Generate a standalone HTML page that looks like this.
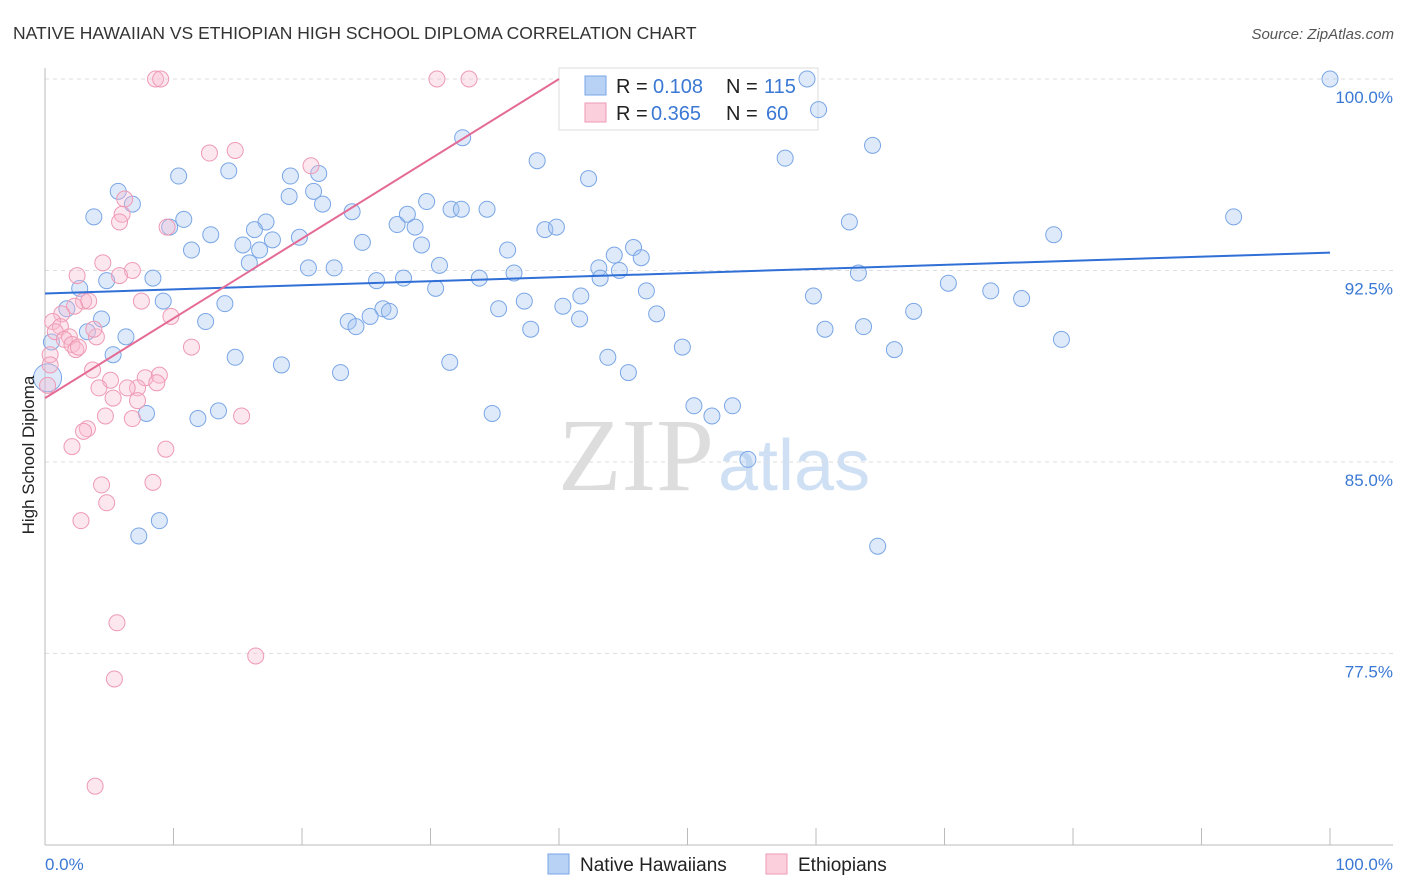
<!DOCTYPE html>
<html><head><meta charset="utf-8"><style>
body{margin:0;background:#fff;font-family:"Liberation Sans",sans-serif;}
#wrap{position:relative;width:1406px;height:892px;overflow:hidden;}
</style></head><body>
<div id="wrap">
<svg id="svg" width="1406" height="892" xmlns="http://www.w3.org/2000/svg" style="position:absolute;left:0;top:0">
<text x="13" y="39" font-size="17.5" fill="#333">NATIVE HAWAIIAN VS ETHIOPIAN HIGH SCHOOL DIPLOMA CORRELATION CHART</text>
<text x="1394" y="39" font-size="15" fill="#555" font-style="italic" text-anchor="end">Source: ZipAtlas.com</text>
<text x="714" y="490" font-size="104" fill="#ddd" text-anchor="end" font-family="Liberation Serif,serif">ZIP</text>
<text x="718" y="490" font-size="72" fill="#cfe0f5">atlas</text>
<g id="grid"></g>
<line x1="45" y1="68" x2="45" y2="845" stroke="#bbb"/>
<line x1="45" y1="845" x2="1393" y2="845" stroke="#bbb"/>
<g id="xticks"></g>
<g>
<rect x="559" y="68" width="259" height="62" fill="#fff" stroke="#ddd"/>
<rect x="585" y="76" width="21" height="19" fill="#b8d2f5" stroke="#7aa6e6"/>
<rect x="585" y="103" width="21" height="19" fill="#fbd0dc" stroke="#ee9ab5"/>
<text x="616" y="93" font-size="20" fill="#222">R =</text>
<text x="653" y="93" font-size="20" fill="#3a78d4">0.108</text>
<text x="726" y="93" font-size="20" fill="#222">N =</text>
<text x="764" y="93" font-size="20" fill="#3a78d4">115</text>
<text x="616" y="120" font-size="20" fill="#222">R =</text>
<text x="651" y="120" font-size="20" fill="#3a78d4">0.365</text>
<text x="726" y="120" font-size="20" fill="#222">N =</text>
<text x="766" y="120" font-size="20" fill="#3a78d4">60</text>
</g>
<g id="marks"></g>
<g id="lines"></g>
<text transform="translate(34,455) rotate(-90)" font-size="17" fill="#222" text-anchor="middle">High School Diploma</text>
<text x="45" y="870" font-size="17" fill="#3a78d4">0.0%</text>
<text x="1393" y="870" font-size="17" fill="#3a78d4" text-anchor="end">100.0%</text>
<g>
<rect x="548" y="854" width="21" height="20" fill="#b8d2f5" stroke="#7aa6e6"/>
<text x="580" y="871" font-size="19" fill="#222">Native Hawaiians</text>
<rect x="766" y="854" width="21" height="20" fill="#fbd0dc" stroke="#ee9ab5"/>
<text x="798" y="871" font-size="19" fill="#222">Ethiopians</text>
</g>
</svg>
</div>
<script>
const yTicks=[100,92.5,85,77.5];
const yTickLabels=["100.0%","92.5%","85.0%","77.5%"];
const xTicks=[0,10,20,30,40,50,60,70,80,90,100];
const blueX=[59.3,100,60.2,64.4,32.5,57.6,38.3,42.3,10.4,14.3,5.7,19.1,21.3,20.9,6.8,19.0,21.6,3.8,10.8,23.9,29.7,28.2,27.4,31.6,32.4,34.4,17.2,16.3,9.7,12.9,28.8,38.9,39.8,62.6,92.5,78.5,15.4,17.7,19.8,24.7,29.3,36.0,44.3,45.8,46.4,11.4,16.7,15.9,20.5,22.5,30.7,43.1,43.2,44.7,36.5,33.8,8.4,4.8,25.8,27.9,30.4,63.3,70.3,73.6,2.7,9.2,14.0,46.8,59.8,76.0,1.7,37.3,35.3,40.3,41.7,26.3,26.8,67.6,47.6,4.4,12.5,25.3,23.6,24.2,41.6,60.7,63.7,3.3,37.8,6.3,79.1,66.1,49.6,0.5,5.3,14.8,43.8,18.4,31.5,23.0,45.4,0.2,50.5,51.9,53.5,13.5,11.9,7.9,34.8,54.7,8.9,7.3,64.8];
const blueY=[100,100,98.8,97.4,97.7,96.9,96.8,96.1,96.2,96.4,95.6,96.2,96.3,95.6,95.1,95.4,95.1,94.6,94.5,94.8,95.2,94.7,94.3,94.9,94.9,94.9,94.4,94.1,94.2,93.9,94.2,94.1,94.2,94.4,94.6,93.9,93.5,93.7,93.8,93.6,93.5,93.3,93.1,93.4,93.0,93.3,93.3,92.8,92.6,92.6,92.7,92.6,92.2,92.5,92.4,92.2,92.2,92.1,92.1,92.2,91.8,92.4,92.0,91.7,91.8,91.3,91.2,91.7,91.5,91.4,91.0,91.3,91.0,91.1,91.5,91.0,90.9,90.9,90.8,90.6,90.5,90.7,90.5,90.3,90.6,90.2,90.3,90.1,90.2,89.9,89.8,89.4,89.5,89.7,89.2,89.1,89.1,88.8,88.9,88.5,88.5,88.3,87.2,86.8,87.2,87.0,86.7,86.9,86.9,85.1,82.7,82.1,81.7];
const blueSize=[];
const pinkX=[8.6,9.0,30.5,33.0,12.8,14.8,20.7,9.5,6.2,6.0,5.8,4.5,6.8,2.5,5.8,3.0,3.4,2.3,9.8,7.5,1.3,0.6,1.2,0.8,1.9,4.0,3.8,1.5,2.1,2.4,2.6,11.4,0.4,0.4,3.7,0.2,5.1,7.8,8.9,8.7,4.2,5.3,7.2,6.4,7.2,4.7,6.8,15.3,3.3,3.0,2.1,9.4,4.4,8.4,4.8,2.8,5.6,16.4,5.4,3.9];
const pinkY=[100,100,100,100,97.1,97.2,96.6,94.2,95.3,94.7,94.4,92.8,92.5,92.3,92.3,91.3,91.3,91.1,90.7,91.3,90.8,90.5,90.3,90.1,89.9,89.9,90.2,89.8,89.6,89.4,89.5,89.5,89.2,88.8,88.6,88.0,88.2,88.3,88.4,88.1,87.9,87.5,87.9,87.9,87.4,86.8,86.7,86.8,86.3,86.2,85.6,85.5,84.1,84.2,83.4,82.7,78.7,77.4,76.5,72.3];
const blueTrend=[91.6,93.2];
const pinkTrend=[87.5,0.3125];
const NS="http://www.w3.org/2000/svg";
function sx(v){return 45+v*12.85;}
function sy(v){return 79+(100-v)*25.53;}
function mk(tag,attrs,parent){const e=document.createElementNS(NS,tag);for(const k in attrs)e.setAttribute(k,attrs[k]);document.getElementById(parent).appendChild(e);return e;}
yTicks.forEach((t,i)=>{
 const l=mk('line',{x1:45,x2:1393,y1:sy(t),y2:sy(t),stroke:'#ddd','stroke-dasharray':'4,4'},'grid');
 
 
 const tx=mk('text',{x:1393,y:sy(t)+24,'font-size':17,fill:'#3a78d4','text-anchor':'end'},'grid');
 tx.textContent=yTickLabels[i];
 
 
});
xTicks.forEach(t=>{
 const l=mk('line',{x1:sx(t),x2:sx(t),y1:828,y2:845,stroke:'#bbb'},'xticks');
 
 
});
blueX.forEach((x,i)=>{
 const big=(i===101);
 const c=mk('circle',{cx:sx(x),cy:sy(blueY[i]),r:big?14:8,fill:'rgba(160,196,240,0.35)',stroke:'#7aa6e6','stroke-width':1},'marks');
 
 
});
pinkX.forEach((x,i)=>{
 const c=mk('circle',{cx:sx(x),cy:sy(pinkY[i]),r:8,fill:'rgba(248,185,205,0.35)',stroke:'#ee9ab5','stroke-width':1},'marks');
 
 
});
const bl=mk('line',{x1:sx(0),y1:sy(blueTrend[0]),x2:sx(100),y2:sy(blueTrend[1]),stroke:'#2f6fd6','stroke-width':2},'lines');


const xEnd=(100-pinkTrend[0])/pinkTrend[1];
const pl=mk('line',{x1:sx(0),y1:sy(pinkTrend[0]),x2:sx(xEnd),y2:sy(100),stroke:'#e46b95','stroke-width':2},'lines');


</script>
</body></html>
